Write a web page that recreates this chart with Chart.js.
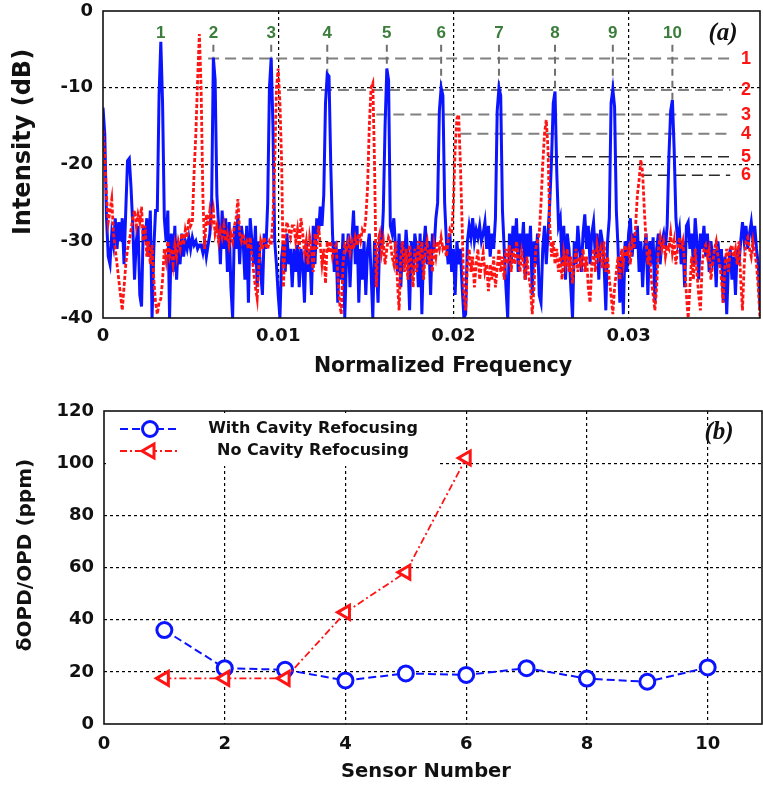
<!DOCTYPE html>
<html>
<head>
<meta charset="utf-8">
<script src="https://cdn.jsdelivr.net/npm/chart.js@4.4.0/dist/chart.umd.min.js"></script>
<style>
  html, body { margin: 0; padding: 0; background: #fff; }
  #panelA { position: absolute; left: 0; top: 0; width: 763px; height: 385px; }
  #panelB { position: absolute; left: 0; top: 385px; width: 763px; height: 401px; }
</style>
</head>
<body>
<div id="panelA"><canvas id="spectrum"></canvas></div>
<div id="panelB"><canvas id="opd"></canvas></div>
<script>
// ---- (a) spectra, one value per frequency bin (dB) ----
const binStep = 0.0001;

const specRefocus = [
  -12.6, -16, -27, -32, -33, -29, -30.5, -27, -31, -27.5,
  -30, -27, -33, -26, -19.5, -19.2, -23, -28, -35, -30,
  -28, -37, -38.5, -28, -30, -27, -32, -26, -40, -31,
  -26, -26, -11, -4, -12, -27, -30, -26, -40, -29,
  -34, -28, -35, -30, -33, -29, -32, -30, -31, -29.5,
  -31, -29.5, -30.5, -30, -31, -30.5, -30.5, -31.5, -30, -32,
  -30.5, -29, -25, -6.1, -9, -24, -28, -33, -26, -31,
  -27, -34, -27.5, -36, -40, -28, -31, -26.5, -33, -28,
  -30, -35, -28, -38, -27, -30, -33, -28, -36, -30,
  -34, -37, -29, -31, -25, -10, -6.1, -15, -30, -33,
  -37, -40, -32, -30, -34, -29, -33, -31, -36, -31,
  -34, -30.5, -36, -31, -33, -38, -30, -34, -31, -37,
  -28, -33, -27, -29, -25.5, -28, -24, -12, -8.2, -8.5,
  -20, -29, -34, -30, -38, -31, -35, -29, -40, -32,
  -29, -36, -30, -26, -33, -28, -38, -31, -35, -30,
  -37, -31, -29, -34, -40, -30, -33, -38, -29, -31,
  -26, -15, -7.5, -9, -28, -29, -27, -31, -34, -29,
  -36, -30, -33, -28.5, -32, -39, -30, -34, -29, -31,
  -36, -29, -39.5, -31, -28, -33, -30, -37, -29, -31,
  -27, -25, -13, -10, -11, -25, -30, -33, -29, -34,
  -31, -37, -30, -33, -31, -36, -40, -39.5, -30, -28,
  -29.5, -27, -30, -28.5, -29.5, -28, -30, -29, -27.5, -31,
  -28, -32, -29, -31, -27, -13, -10, -11, -26, -31,
  -36, -40, -29, -33, -28, -31, -27, -34, -29, -31,
  -27.5, -35, -29, -32, -28, -37, -30, -33, -29, -37,
  -38, -31, -28, -33, -29, -25, -19.4, -12, -10.5, -21,
  -28, -27, -33, -28, -35, -29, -31, -36, -40, -30,
  -33, -28, -31, -34, -29, -26.5, -31, -28, -33, -29,
  -27.5, -32, -29, -35, -28.5, -30, -33, -39, -30, -27,
  -12, -10.2, -12.5, -26, -31, -38, -32, -39.5, -30, -34,
  -29, -27, -32, -29, -31, -28, -34, -30, -36, -31,
  -29, -37, -30, -33, -29.5, -38, -31, -29, -33, -30,
  -29, -31, -28, -19, -13, -11.6, -18, -27, -30, -28.5,
  -33, -30, -36, -28, -27.5, -31, -29, -33, -27, -30,
  -35, -29, -31, -28, -32, -29, -34, -30, -32.5, -31,
  -36, -30, -33, -31, -38, -32, -39.5, -33, -31, -35,
  -32, -37, -31, -33, -30, -27.5, -30, -28, -31, -29,
  -27.5, -30, -28, -31, -33, -39
];

const specNoRefocus = [
  -15.5, -19, -24, -27.5, -26, -24.5, -29, -31, -33, -35,
  -37, -39, -36, -33, -31, -30, -28.5, -27, -26, -28,
  -26.5, -27.5, -25.5, -30, -28, -32, -30, -33, -30.5, -35,
  -38, -39.5, -38, -37.5, -35, -31, -32.5, -30, -32, -31,
  -33, -30.5, -32, -30, -31, -29, -30.5, -28.5, -29.5, -27,
  -28, -27.5, -21, -16, -9, -3, -10, -24, -31, -26.5,
  -28, -26, -27.5, -26, -29, -28, -30, -28.5, -29.5, -28,
  -30, -29, -30.5, -29, -30, -28, -27, -24.5, -29, -30,
  -29, -30.5, -30, -31, -29.5, -32, -34, -36, -37.5, -33,
  -30, -31, -29.5, -30.5, -31, -30, -30.5, -27, -20, -10,
  -7.5, -12, -20, -36, -29, -27.5, -28.5, -29.5, -28, -28,
  -30, -28.5, -31, -27, -29, -31.5, -30, -33, -29.5, -31,
  -34, -29, -31, -28, -30.5, -33, -31, -35.5, -30, -31.5,
  -30, -32, -31, -30.5, -34, -38, -39.5, -33, -30.5, -31,
  -30, -31.5, -30, -31, -29.5, -30.5, -29, -30, -28.5, -29,
  -27, -23, -15, -10, -9.4, -20, -36, -30, -29, -31.5,
  -30, -33, -31, -29.5, -30, -32, -33, -30, -35, -39,
  -32, -30, -34, -31, -35, -30.5, -33, -36, -31, -34,
  -30, -32.5, -30, -35, -31, -30, -33, -31, -34, -30.5,
  -32, -30, -31, -29.5, -31, -30.5, -32, -30, -28.5, -29,
  -25, -18, -14, -13.5, -20, -28, -37, -39, -33, -31,
  -34, -32, -36, -33, -31, -35, -33, -31.5, -34, -33,
  -36.5, -33, -35, -32, -36, -33.5, -31, -34, -32, -35,
  -31, -33, -30.5, -34, -31, -33, -30, -32, -34, -31.5,
  -33, -35, -32, -34.5, -36, -39.5, -36, -31, -30, -29,
  -25, -20, -16, -14.2, -18, -28, -32, -30, -33, -31,
  -34, -32, -35, -31.5, -33, -31, -34, -32, -35.5, -33,
  -31, -34, -32, -33, -31, -34, -32, -36, -38, -33,
  -31, -34, -30.5, -32, -31, -33.5, -30, -34, -32, -35,
  -37, -39.5, -36, -34, -32, -35, -31, -33, -30.5, -32,
  -31, -33, -30, -31, -28, -24, -22, -19.4, -21, -26,
  -30, -33, -31, -35, -37, -39, -36, -31, -29.5, -31,
  -30, -32, -30.5, -31, -29, -31.5, -30, -33, -31, -29.5,
  -31, -30, -33, -37, -40, -36, -32, -35, -31, -34,
  -37, -39, -33, -31, -30.5, -32, -31, -35, -33, -31,
  -30, -32, -33, -35, -38, -33, -31, -34, -31, -30.5,
  -32, -31, -33, -30, -35, -39, -33, -30, -29.5, -31,
  -32, -30, -31.5, -33, -36, -40
];

// cavity peaks numbered across the top
const peakLabels = ['1', '2', '3', '4', '5', '6', '7', '8', '9', '10'];
const peakFreq = [0.0033, 0.0063, 0.0096, 0.0128, 0.0162, 0.0193, 0.0226, 0.0258, 0.0291, 0.0325];

// reference levels numbered on the right
const levelLabels = ['1', '2', '3', '4', '5', '6'];
const levelDb = [-6.2, -10.3, -13.5, -16, -19, -21.4];
const levelFrom = [0.0060, 0.0105, 0.0156, 0.0204, 0.0254, 0.0307];
const levelTo = 0.0358;

// ---- (b) drift per sensor ----
const sensors = [1, 2, 3, 4, 5, 6, 7, 8, 9, 10];
const opdRefocus = [36, 21.4, 20.8, 16.7, 19.4, 18.8, 21.4, 17.4, 16.2, 21.7];
const opdNoRefocus = [17.5, 17.5, 17.5, 42.8, 58.2, 102];

const BLUE = '#0b14ff';
const RED = '#ff1414';
const GREEN = '#3b7d3b';
const FONT = 'DejaVu Sans';
const tickFont = { family: FONT, size: 18, weight: 'bold' };

const binPoints = arr => arr.map((v, i) => ({ x: +(i * binStep).toFixed(4), y: v }));
const pairPoints = (xs, ys) => ys.map((v, i) => ({ x: xs[i], y: v }));

// dotted grid, but not on the plot edges
function dottedGrid(lo, hi) {
  return {
    color: c => (c.tick && (Math.abs(c.tick.value - lo) < 1e-9 || Math.abs(c.tick.value - hi) < 1e-9)) ? 'rgba(0,0,0,0)' : '#000',
    lineWidth: 1.2,
    drawTicks: false
  };
}

// fixed axis boxes so the plot area lands where it should
const fixWidth = w => s => { s.width = w; s.paddingTop = 0; s.paddingBottom = 0; };
const fixHeight = h => s => { s.height = h; s.paddingLeft = 0; s.paddingRight = 0; };

const frame = {
  id: 'frame',
  afterDraw(chart) {
    const { ctx, chartArea: a } = chart;
    ctx.save();
    ctx.strokeStyle = '#111';
    ctx.lineWidth = 1.6;
    ctx.strokeRect(a.left, a.top, a.right - a.left, a.bottom - a.top);
    ctx.restore();
  }
};

// axis titles, placed by hand (they sit a little off the axis centre)
function axisTitles(xTitle, yTitle) {
  return {
    id: 'axisTitles',
    afterDraw(chart) {
      const { ctx } = chart;
      ctx.save();
      ctx.fillStyle = '#111';
      ctx.textAlign = 'center';
      ctx.textBaseline = 'middle';
      ctx.font = `bold ${xTitle.size}px "${FONT}"`;
      ctx.fillText(xTitle.text, xTitle.cx, xTitle.cy);
      ctx.translate(yTitle.cx, yTitle.cy);
      ctx.rotate(-Math.PI / 2);
      ctx.font = `bold ${yTitle.size}px "${FONT}"`;
      ctx.fillText(yTitle.text, 0, 0);
      ctx.restore();
    }
  };
}

const peakMarks = {
  id: 'peakMarks',
  beforeDatasetsDraw(chart) {
    const { ctx, scales: { x, y } } = chart;
    ctx.save();
    levelDb.forEach((db, k) => {
      const py = y.getPixelForValue(db);
      ctx.setLineDash([11, 6]);
      ctx.lineWidth = k < 4 ? 2 : 1.5;
      ctx.strokeStyle = k < 4 ? '#808080' : '#2b2b2b';
      ctx.beginPath();
      ctx.moveTo(x.getPixelForValue(levelFrom[k]), py);
      ctx.lineTo(x.getPixelForValue(levelTo), py);
      ctx.stroke();
    });
    // drop lines from each number to the top of its peak
    ctx.setLineDash([7, 5]);
    ctx.strokeStyle = '#707070';
    ctx.lineWidth = 2;
    const dropFrom = -4.4;
    peakFreq.forEach(f => {
      const top = specRefocus[Math.round(f / binStep)];
      if (top >= dropFrom) return;
      const px = x.getPixelForValue(f);
      ctx.beginPath();
      ctx.moveTo(px, y.getPixelForValue(dropFrom));
      ctx.lineTo(px, y.getPixelForValue(top));
      ctx.stroke();
    });
    ctx.restore();
  },
  afterDatasetsDraw(chart) {
    const { ctx, chartArea: a, scales: { x, y } } = chart;
    ctx.save();
    ctx.textAlign = 'center';
    ctx.textBaseline = 'middle';
    ctx.fillStyle = GREEN;
    ctx.font = 'bold 17px "Liberation Sans"';
    peakFreq.forEach((f, k) => ctx.fillText(peakLabels[k], x.getPixelForValue(f), y.getPixelForValue(-2.9)));
    ctx.fillStyle = RED;
    ctx.font = 'bold 18px "Liberation Sans"';
    levelDb.forEach((db, k) => ctx.fillText(levelLabels[k], x.getPixelForValue(0.0367), y.getPixelForValue(db)));
    ctx.fillStyle = '#111';
    ctx.font = 'italic bold 25px "Liberation Serif"';
    ctx.fillText('(a)', a.right - 37, a.top + 23);
    ctx.restore();
  }
};

new Chart(document.getElementById('spectrum'), {
  type: 'scatter',
  data: {
    datasets: [
      {
        label: 'With Cavity Refocusing',
        data: binPoints(specRefocus),
        showLine: true,
        borderColor: BLUE,
        borderWidth: 3,
        pointRadius: 0,
        tension: 0,
        order: 2
      },
      {
        label: 'No Cavity Refocusing',
        data: binPoints(specNoRefocus),
        showLine: true,
        borderColor: RED,
        borderWidth: 2.8,
        borderDash: [4, 2],
        pointRadius: 0,
        tension: 0,
        order: 1
      }
    ]
  },
  options: {
    responsive: true,
    maintainAspectRatio: false,
    animation: false,
    layout: { autoPadding: false, padding: { top: 11, right: 3, left: 0, bottom: 0 } },
    plugins: { legend: { display: false }, tooltip: { enabled: false } },
    scales: {
      x: {
        type: 'linear',
        min: 0,
        max: 0.0375,
        afterFit: fixHeight(67),
        grid: dottedGrid(0, 0.0375),
        border: { display: false, dash: [3, 3] },
        ticks: {
          stepSize: 0.01,
          includeBounds: false,
          padding: 8,
          color: '#111',
          font: tickFont,
          callback: v => (v === 0 ? '0' : v.toFixed(2))
        }
      },
      y: {
        min: -40,
        max: 0,
        afterFit: fixWidth(103),
        grid: dottedGrid(-40, 0),
        border: { display: false, dash: [3, 3] },
        ticks: { stepSize: 10, padding: 10, color: '#111', font: tickFont }
      }
    }
  },
  plugins: [
    peakMarks,
    frame,
    axisTitles(
      { text: 'Normalized Frequency', size: 20.5, cx: 443, cy: 367 },
      { text: 'Intensity (dB)', size: 24, cx: 24, cy: 142 }
    )
  ]
});

// legend box drawn inside the top-left corner of (b)
const opdLegend = {
  id: 'opdLegend',
  afterDatasetsDraw(chart) {
    const { ctx, chartArea: a } = chart;
    const rows = chart.data.datasets;
    ctx.save();
    ctx.fillStyle = '#fff';
    ctx.fillRect(a.left + 2, a.top + 2, 334, 53);
    rows.forEach((ds, k) => {
      const ry = a.top + 18 + k * 22;
      ctx.strokeStyle = ds.borderColor;
      ctx.lineWidth = 2;
      ctx.setLineDash(ds.borderDash);
      ctx.beginPath();
      ctx.moveTo(a.left + 16, ry);
      ctx.lineTo(a.left + 76, ry);
      ctx.stroke();
      ctx.setLineDash([]);
      ctx.fillStyle = '#fff';
      ctx.lineWidth = ds.pointBorderWidth;
      Chart.helpers.drawPoint(ctx, {
        pointStyle: ds.pointStyle,
        radius: ds.pointRadius,
        rotation: ds.pointRotation || 0,
        borderWidth: ds.pointBorderWidth
      }, a.left + 46, ry);
      ctx.fillStyle = '#111';
      ctx.font = 'bold 16px "DejaVu Sans"';
      ctx.textAlign = 'center';
      ctx.textBaseline = 'middle';
      ctx.fillText(ds.label, a.left + 209, ry);
    });
    ctx.font = 'italic bold 25px "Liberation Serif"';
    ctx.fillText('(b)', a.right - 43, a.top + 22);
    ctx.restore();
  }
};

new Chart(document.getElementById('opd'), {
  type: 'scatter',
  data: {
    datasets: [
      {
        label: 'With Cavity Refocusing',
        data: pairPoints(sensors, opdRefocus),
        showLine: true,
        borderColor: BLUE,
        borderWidth: 2,
        borderDash: [8, 4],
        pointStyle: 'circle',
        pointRadius: 7.5,
        pointBorderWidth: 3,
        pointBorderColor: BLUE,
        pointBackgroundColor: '#fff',
        order: 2
      },
      {
        label: 'No Cavity Refocusing',
        data: pairPoints(sensors, opdNoRefocus),
        showLine: true,
        borderColor: RED,
        borderWidth: 1.8,
        borderDash: [7, 3, 2, 3],
        pointStyle: 'triangle',
        pointRotation: -90,
        pointRadius: 8,
        pointBorderWidth: 3,
        pointBorderColor: RED,
        pointBackgroundColor: '#fff',
        order: 1
      }
    ]
  },
  options: {
    responsive: true,
    maintainAspectRatio: false,
    animation: false,
    layout: { autoPadding: false, padding: { top: 26, right: 1, left: 0, bottom: 0 } },
    plugins: { legend: { display: false }, tooltip: { enabled: false } },
    scales: {
      x: {
        type: 'linear',
        min: 0,
        max: 10.9,
        afterFit: fixHeight(62),
        grid: dottedGrid(0, 10.9),
        border: { display: false, dash: [3, 3] },
        ticks: { stepSize: 2, includeBounds: false, padding: 10, color: '#111', font: tickFont }
      },
      y: {
        min: 0,
        max: 120,
        afterFit: fixWidth(104),
        grid: dottedGrid(0, 120),
        border: { display: false, dash: [3, 3] },
        ticks: { stepSize: 20, padding: 10, color: '#111', font: tickFont }
      }
    }
  },
  plugins: [
    opdLegend,
    frame,
    axisTitles(
      { text: 'Sensor Number', size: 19.5, cx: 426, cy: 387 },
      { text: 'δOPD/OPD (ppm)', size: 20, cx: 26, cy: 170 }
    )
  ]
});
</script>
</body>
</html>
